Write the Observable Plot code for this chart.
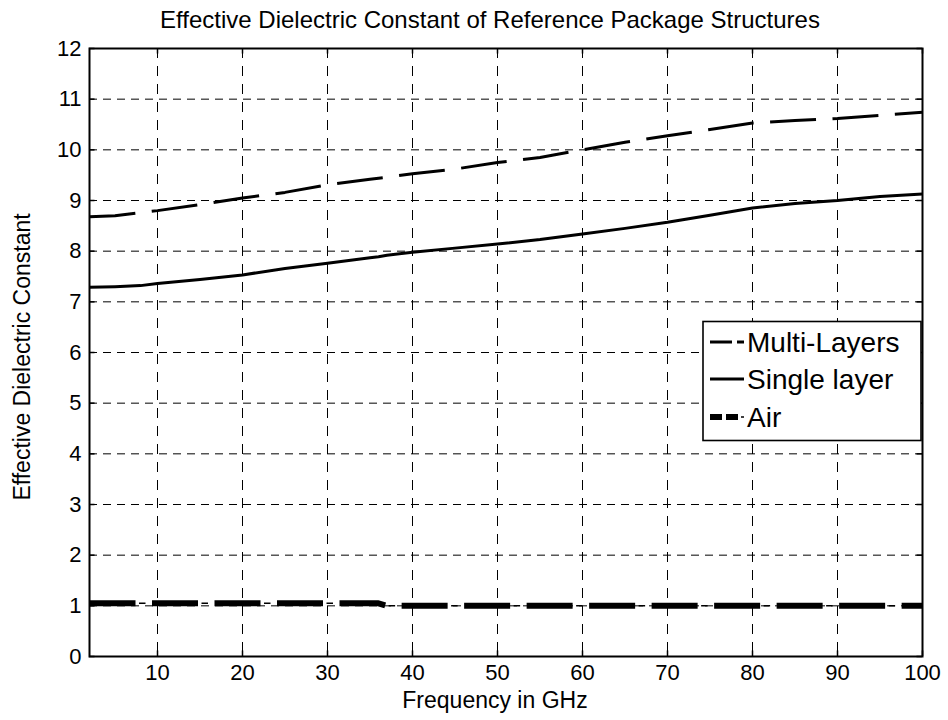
<!DOCTYPE html>
<html>
<head>
<meta charset="utf-8">
<script src="https://cdn.jsdelivr.net/npm/d3@7"></script>
<script src="https://cdn.jsdelivr.net/npm/@observablehq/plot@0.6"></script>
<style>
  body { margin: 0; background: #fff; }
  #chart { position: relative; width: 948px; height: 720px; }
  #chart svg { display: block; }
</style>
</head>
<body>
<div id="chart"></div>
<script>
// Frequency samples (GHz) and effective dielectric constant of each structure
const freq        = [2, 5, 8, 10, 15, 20, 25, 30, 35, 36, 37, 40, 45, 50, 55, 60, 65, 70, 75, 80, 85, 90, 95, 100];
const multiLayers = [8.68, 8.70, 8.76, 8.80, 8.92, 9.05, 9.16, 9.31, 9.42, 9.44, 9.46, 9.53, 9.62, 9.75, 9.85, 10.00, 10.15, 10.28, 10.40, 10.53, 10.58, 10.62, 10.68, 10.74];
const singleLayer = [7.29, 7.30, 7.32, 7.36, 7.44, 7.53, 7.66, 7.76, 7.87, 7.89, 7.92, 7.98, 8.06, 8.14, 8.23, 8.34, 8.45, 8.57, 8.71, 8.85, 8.94, 9.00, 9.08, 9.13];
const air         = [1.05, 1.05, 1.05, 1.05, 1.05, 1.05, 1.05, 1.05, 1.05, 1.05, 1.00, 1.00, 1.00, 1.00, 1.00, 1.00, 1.00, 1.00, 1.00, 1.00, 1.00, 1.00, 1.00, 1.00];

const xTicks = [10, 20, 30, 40, 50, 60, 70, 80, 90, 100];
const yTicks = [0, 1, 2, 3, 4, 5, 6, 7, 8, 9, 10, 11, 12];

const titleText = "Effective Dielectric Constant of Reference Package Structures";
const xLabel = "Frequency in GHz";
const yLabel = "Effective Dielectric Constant";
const legendNames = ["Multi-Layers", "Single layer", "Air"];

const rows = freq.map((f, i) => ({f, multi: multiLayers[i], single: singleLayer[i], air: air[i]}));

const font = "'Liberation Sans', Arial, Helvetica, sans-serif";
const ink = "#000";

const chart = Plot.plot({
  width: 948,
  height: 720,
  marginLeft: 89,
  marginRight: 26,
  marginTop: 48,
  marginBottom: 64,
  style: {fontFamily: font, fontSize: "22px", color: ink, background: "#fff", overflow: "visible"},
  x: {domain: [2, 100]},
  y: {domain: [0, 12]},
  marks: [
    // dashed grid
    Plot.gridX(xTicks, {stroke: ink, strokeOpacity: 1, strokeWidth: 1, strokeDasharray: "10,8"}),
    Plot.gridY(yTicks, {stroke: ink, strokeOpacity: 1, strokeWidth: 1, strokeDasharray: "8,6"}),
    // inward tick marks on all four sides
    Plot.ruleX(xTicks, {x: d => d, y1: 0, y2: 0.11, stroke: ink, strokeWidth: 1.5}),
    Plot.ruleX(xTicks, {x: d => d, y1: 12, y2: 11.89, stroke: ink, strokeWidth: 1.5}),
    Plot.ruleY(yTicks, {y: d => d, x1: 2, x2: 2.65, stroke: ink, strokeWidth: 1.5}),
    Plot.ruleY(yTicks, {y: d => d, x1: 100, x2: 99.35, stroke: ink, strokeWidth: 1.5}),
    // series
    Plot.line(rows, {x: "f", y: "multi", stroke: ink, strokeWidth: 3, strokeDasharray: "46,16.5", strokeLinecap: "butt"}),
    Plot.line(rows, {x: "f", y: "single", stroke: ink, strokeWidth: 3, strokeLinecap: "butt"}),
    Plot.line(rows, {x: "f", y: "air", stroke: ink, strokeWidth: 6, strokeDasharray: "46,16.5", strokeLinecap: "butt"}),
    Plot.line(rows, {x: "f", y: "air", stroke: ink, strokeWidth: 1.5, strokeDasharray: "0,49.5,6.5,6.5", strokeLinecap: "butt"}),
    Plot.frame({stroke: ink, strokeWidth: 2}),
    Plot.axisX(xTicks, {tickSize: 0, tickPadding: 8, label: null, fontSize: 22, tickFormat: d => String(d)}),
    Plot.axisY(yTicks, {tickSize: 0, tickPadding: 8, label: null, fontSize: 22, tickFormat: d => String(d)})
  ]
});

document.getElementById("chart").appendChild(chart);

// Title, axis titles and legend drawn onto the same SVG
const svg = d3.select(chart);
const g = svg.append("g").attr("font-family", font).attr("fill", ink).attr("text-anchor", "middle");

g.append("text").attr("x", 490).attr("y", 28)
  .attr("font-size", 24).text(titleText);
g.append("text").attr("x", 495).attr("y", 708)
  .attr("font-size", 23).text(xLabel);
g.append("text").attr("transform", "translate(30,357) rotate(-90)")
  .attr("font-size", 23).text(yLabel);

const lg = svg.append("g").attr("font-family", font).attr("text-anchor", "start");
lg.append("rect").attr("x", 703).attr("y", 321.5).attr("width", 218).attr("height", 119)
  .attr("fill", "#fff").attr("stroke", ink).attr("stroke-width", 1.6);

const rowY = [342, 379, 417];
const samples = [
  [{w: 3, dash: "22,5,7,100"}],
  [{w: 3, dash: null}],
  [{w: 6, dash: "12,4,12,100"}, {w: 1.5, dash: "0,31,4,100"}]
];
samples.forEach((parts, i) => {
  parts.forEach(p => {
    const ln = lg.append("line").attr("x1", 710).attr("x2", 744)
      .attr("y1", rowY[i]).attr("y2", rowY[i])
      .attr("stroke", ink).attr("stroke-width", p.w).attr("stroke-linecap", "butt");
    if (p.dash) ln.attr("stroke-dasharray", p.dash);
  });
  lg.append("text").attr("x", 747).attr("y", rowY[i] + 10).attr("font-size", 28)
    .attr("fill", ink).text(legendNames[i]);
});
</script>
</body>
</html>
